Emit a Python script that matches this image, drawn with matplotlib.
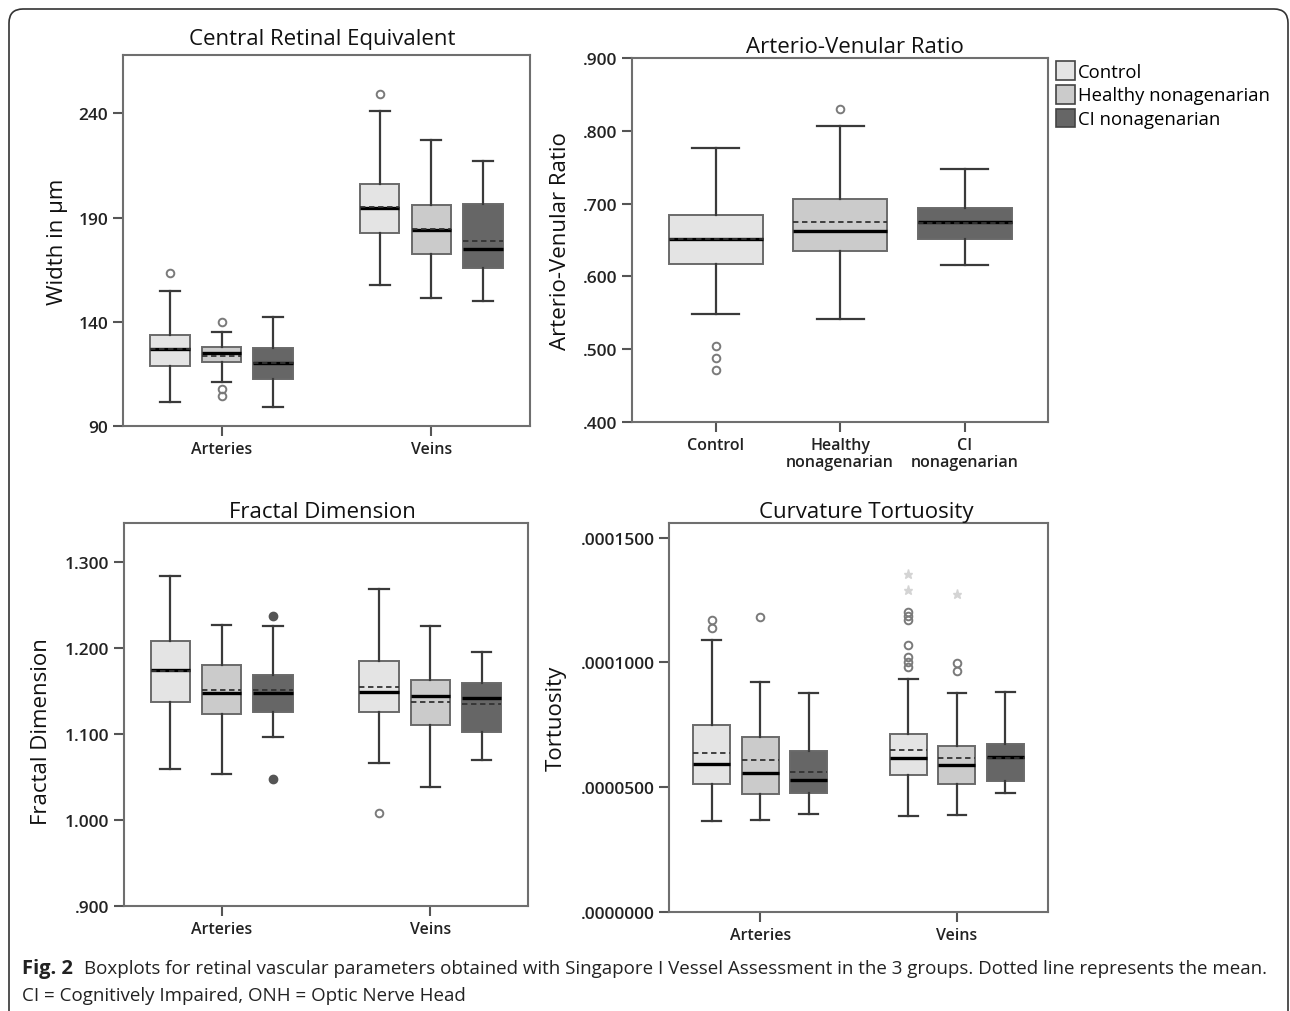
import matplotlib
matplotlib.use("Agg")
import matplotlib.pyplot as plt
import matplotlib.patches as mpatches
from matplotlib.transforms import IdentityTransform
from matplotlib.ticker import FuncFormatter

plt.rcParams["font.family"] = ["Open Sans", "DejaVu Sans"]

groups = ["Control", "Healthy nonagenarian", "CI nonagenarian"]
fills = ["#e4e4e4", "#cbcbcb", "#666666"]
vessels = ["Arteries", "Veins"]

# order of boxes: arteries (control, healthy, CI), veins (control, healthy, CI)
cre_whislo = [101.5, 111.2, 99.1, 157.5, 151.4, 150.0]
cre_q1 = [118.7, 120.5, 112.6, 182.7, 172.6, 165.9]
cre_med = [126.8, 124.9, 120.1, 194.4, 184.3, 175.0]
cre_mean = [126.9, 123.6, 120.3, 195.3, 184.4, 179.0]
cre_q3 = [133.7, 128.1, 127.3, 206.3, 196.2, 196.6]
cre_whishi = [154.7, 135.1, 142.3, 241.2, 227.3, 217.4]
cre_fliers = [[163.5], [139.9, 107.7, 104.2], [], [249.3], [], []]

avr_whislo = [0.549, 0.541, 0.616]
avr_q1 = [0.617, 0.635, 0.651]
avr_med = [0.652, 0.663, 0.675]
avr_mean = [0.651, 0.675, 0.674]
avr_q3 = [0.685, 0.707, 0.694]
avr_whishi = [0.7765, 0.806, 0.747]
avr_fliers = [[0.505, 0.488, 0.472], [0.830], []]

fd_whislo = [1.060, 1.054, 1.0965, 1.0667, 1.0388, 1.0698]
fd_q1 = [1.138, 1.124, 1.126, 1.126, 1.111, 1.1031]
fd_med = [1.175, 1.148, 1.1484, 1.1496, 1.145, 1.1422]
fd_mean = [1.1737, 1.1516, 1.151, 1.1554, 1.137, 1.1357]
fd_q3 = [1.2085, 1.181, 1.169, 1.1857, 1.1636, 1.1593]
fd_whishi = [1.284, 1.227, 1.226, 1.2686, 1.2264, 1.1957]
fd_fliers = [[], [], [], [1.0085], [], []]
fd_dark_fliers = [[], [], [1.238, 1.048], [], [], []]

tort_whislo = [3.65e-5, 3.67e-5, 3.92e-5, 3.83e-5, 3.89e-5, 4.76e-5]
tort_q1 = [5.125e-5, 4.71e-5, 4.78e-5, 5.51e-5, 5.125e-5, 5.26e-5]
tort_med = [5.95e-5, 5.57e-5, 5.30e-5, 6.16e-5, 5.90e-5, 6.20e-5]
tort_mean = [6.37e-5, 6.09e-5, 5.63e-5, 6.50e-5, 6.18e-5, 6.19e-5]
tort_q3 = [7.48e-5, 7.01e-5, 6.44e-5, 7.12e-5, 6.66e-5, 6.73e-5]
tort_whishi = [10.91e-5, 9.23e-5, 8.79e-5, 9.35e-5, 8.78e-5, 8.83e-5]
tort_fliers = [[11.72e-5, 11.37e-5], [11.82e-5], [],
               [12.02e-5, 11.88e-5, 11.71e-5, 10.72e-5, 10.21e-5, 10.01e-5, 9.81e-5],
               [9.98e-5, 9.67e-5], []]
tort_extremes = [[], [], [], [13.55e-5, 12.89e-5], [12.73e-5], []]

OFFSET = 0.246
WIDTH = 0.188


def draw_boxes(ax, positions, whislo, q1, med, mean, q3, whishi, fliers, width):
    for i, pos in enumerate(positions):
        stat = dict(whislo=whislo[i], q1=q1[i], med=med[i], mean=mean[i],
                    q3=q3[i], whishi=whishi[i], fliers=fliers[i])
        fill = fills[i % 3]
        ax.bxp([stat], positions=[pos], widths=width, capwidths=width * 0.5,
               patch_artist=True, showmeans=True, meanline=True,
               manage_ticks=False,
               boxprops=dict(facecolor=fill, edgecolor="#6a6a6a", linewidth=1.4),
               whiskerprops=dict(color="#3a3a3a", linewidth=1.6),
               capprops=dict(color="#3a3a3a", linewidth=1.6),
               medianprops=dict(color="black", linewidth=2.4),
               meanprops=dict(color="#333333", linestyle=(0, (3, 2)), linewidth=1.3),
               flierprops=dict(marker="o", markerfacecolor="none",
                               markeredgecolor="#7a7a7a", markersize=5.5,
                               markeredgewidth=1.4))


def style_axes(ax, title, ylabel, ylim, yticks, fmt, title_x, ylabel_x,
               ylabel_y=0.5, pad=4):
    ax.set_ylim(*ylim)
    ax.set_yticks(yticks)
    ax.yaxis.set_major_formatter(FuncFormatter(fmt))
    for s in ax.spines.values():
        s.set_color("#6f6f6f")
        s.set_linewidth(1.5)
    ax.tick_params(axis="both", length=7, width=1.5, color="#555555",
                   labelcolor="#222222")
    ax.tick_params(axis="y", labelsize=12.5)
    ax.tick_params(axis="x", labelsize=11.5)
    for lab in ax.get_yticklabels() + ax.get_xticklabels():
        lab.set_fontweight("semibold")
    ax.set_title(title, fontsize=16, x=title_x, pad=pad, color="#111111")
    ax.set_ylabel(ylabel, fontsize=16, color="#111111")
    ax.yaxis.set_label_coords(ylabel_x, ylabel_y)


fig = plt.figure(figsize=(12.9, 10.12), dpi=100)

# Central Retinal Equivalent
ax1 = fig.add_axes([0.0953, 0.578, 0.3155, 0.3666])
pos6 = [g + k * OFFSET for g in (1, 2) for k in (-1, 0, 1)]
draw_boxes(ax1, pos6, cre_whislo, cre_q1, cre_med, cre_mean, cre_q3, cre_whishi,
           cre_fliers, WIDTH)
ax1.set_xlim(0.53, 2.47)
ax1.set_xticks([1, 2])
ax1.set_xticklabels(vessels)
style_axes(ax1, "Central Retinal Equivalent", "Width in µm", (90, 268),
           [90, 140, 190, 240], lambda v, p: f"{v:.0f}", 0.49, -0.135, pad=8)

# Arterio-Venular Ratio
ax2 = fig.add_axes([0.490, 0.582, 0.3225, 0.3597])
draw_boxes(ax2, [1, 2, 3], avr_whislo, avr_q1, avr_med, avr_mean, avr_q3, avr_whishi,
           avr_fliers, 0.754)
ax2.set_xlim(0.33, 3.67)
ax2.set_xticks([1, 2, 3])
ax2.set_xticklabels(["Control", "Healthy\nnonagenarian", "CI\nnonagenarian"],
                    linespacing=1.15)
style_axes(ax2, "Arterio-Venular Ratio", "Arterio-Venular Ratio", (0.4, 0.9),
           [0.4, 0.5, 0.6, 0.7, 0.8, 0.9], lambda v, p: f"{v:.3f}".lstrip("0"),
           0.536, -0.147)

# Fractal Dimension
ax3 = fig.add_axes([0.0961, 0.1038, 0.3132, 0.3785])
draw_boxes(ax3, pos6, fd_whislo, fd_q1, fd_med, fd_mean, fd_q3, fd_whishi,
           fd_fliers, WIDTH)
for i, pos in enumerate(pos6):
    if fd_dark_fliers[i]:
        ax3.plot([pos] * len(fd_dark_fliers[i]), fd_dark_fliers[i], "o",
                 color="#555555", markersize=6, zorder=3)
ax3.set_xlim(0.532, 2.468)
ax3.set_xticks([1, 2])
ax3.set_xticklabels(vessels)
style_axes(ax3, "Fractal Dimension", "Fractal Dimension", (0.9, 1.346),
           [0.9, 1.0, 1.1, 1.2, 1.3],
           lambda v, p: f"{v:.3f}".lstrip("0") if v < 1 else f"{v:.3f}",
           0.49, -0.178, 0.457)

# Curvature Tortuosity
ax4 = fig.add_axes([0.5186, 0.0978, 0.2938, 0.3844])
draw_boxes(ax4, pos6, tort_whislo, tort_q1, tort_med, tort_mean, tort_q3, tort_whishi,
           tort_fliers, WIDTH)
for i, pos in enumerate(pos6):
    if tort_extremes[i]:
        ax4.plot([pos] * len(tort_extremes[i]), tort_extremes[i], "*",
                 color="#d4d4d4", markersize=6.5, zorder=3)
ax4.set_xlim(0.537, 2.463)
ax4.set_xticks([1, 2])
ax4.set_xticklabels(vessels)
style_axes(ax4, "Curvature Tortuosity", "Tortuosity", (0, 1.559e-4),
           [0, 5e-5, 1e-4, 1.5e-4], lambda v, p: f"{v:.7f}".lstrip("0"),
           0.52, -0.269)

# legend
handles = [mpatches.Patch(facecolor=c, edgecolor="#444444", linewidth=1.2, label=g)
           for c, g in zip(fills, groups)]
fig.legend(handles=handles, loc="upper left", bbox_to_anchor=(1056 / 1290, 1 - 62 / 1012),
           frameon=False, fontsize=13.3, handlelength=1.05, handleheight=1.2,
           handletextpad=0.15, labelspacing=0.22, borderpad=0, borderaxespad=0)

# rounded frame
frame = mpatches.FancyBboxPatch((9, -30), 1279, 1032,
                                boxstyle="round,pad=0,rounding_size=14",
                                transform=IdentityTransform(), fill=False,
                                edgecolor="#333333", linewidth=1.2)
fig.add_artist(frame)

# caption
fig.text(22 / 1290, 1 - 974 / 1012, "Fig. 2", fontsize=14.5, fontweight="bold",
         color="#222222", va="baseline")
fig.text(84 / 1290, 1 - 974 / 1012,
         "Boxplots for retinal vascular parameters obtained with Singapore I Vessel "
         "Assessment in the 3 groups. Dotted line represents the mean.",
         fontsize=13.5, color="#222222", va="baseline")
fig.text(22 / 1290, 1 - 1001 / 1012, "CI = Cognitively Impaired, ONH = Optic Nerve Head",
         fontsize=13.5, color="#222222", va="baseline")

fig.savefig("out.png", dpi=100)
